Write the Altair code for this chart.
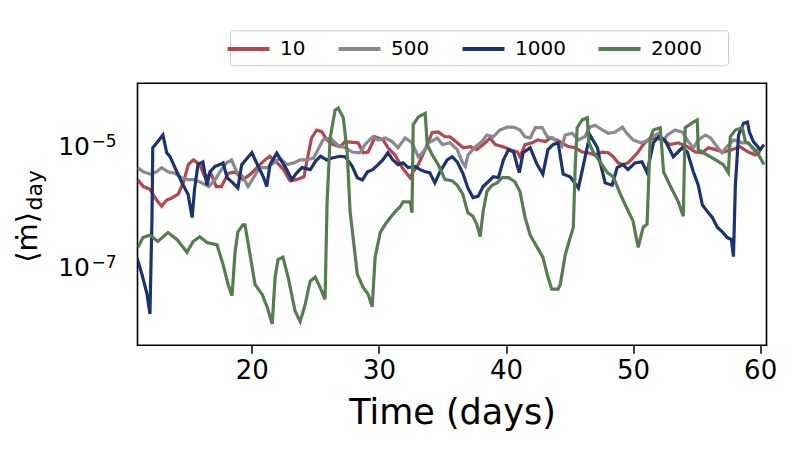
import altair as alt
import pandas as pd

series_names = ["10", "500", "1000", "2000"]
colors = ["#b4464f", "#8a8893", "#1b346f", "#557d50"]

t_10 = [11.0, 11.46, 11.98, 12.5, 12.9, 13.3, 13.7, 14.2, 14.6, 15.0, 15.4, 15.9, 16.3, 16.8, 17.2, 17.6,
        18.15, 18.7, 19.3, 19.9, 20.4, 20.9, 21.4, 22.0, 22.5, 23.0, 23.5, 24.1, 24.3, 24.7, 25.1, 25.5,
        25.9, 26.4, 26.95, 27.34, 28.36, 28.76, 29.15, 29.7, 30.33, 30.72, 31.27, 31.83, 32.46, 32.69,
        33.09, 33.64, 34.19, 34.66, 35.2, 35.6, 36.16, 36.63, 37.2, 37.7, 38.2, 38.76, 39.15, 39.7, 40.35,
        40.9, 41.1, 41.5, 42.06, 42.5, 43.1, 43.5, 44.0, 44.4, 44.9, 45.45, 46.0, 46.47, 47.0, 47.57, 48.05,
        48.44, 48.83, 49.2, 49.6, 50.0, 50.4, 50.8, 51.2, 51.75, 52.3, 52.93, 53.56, 54.27, 54.9, 55.45,
        55.92, 56.5, 57.1, 57.8, 58.4, 59.07, 59.6, 60.0]
v_10 = [2.6e-6, 2.0e-6, 1.8e-6, 1.2e-6, 9.5e-7, 1.2e-6, 1.3e-6, 1.5e-6, 2.3e-6, 4.6e-6, 5.5e-6, 4.6e-6, 2.9e-6,
        3.2e-6, 2.0e-6, 2.0e-6, 3.3e-6, 3.5e-6, 2.6e-6, 3.2e-6, 4.1e-6, 5.2e-6, 6.3e-6, 4.9e-6, 3.8e-6,
        2.5e-6, 2.6e-6, 2.9e-6, 4.9e-6, 1.26e-5, 1.7e-5, 1.6e-5, 1.17e-5, 9.8e-6, 9.1e-6, 1.10e-5, 1.05e-5,
        7.2e-6, 7.4e-6, 1.32e-5, 1.17e-5, 8.7e-6, 6.6e-6, 4.1e-6, 2.8e-6, 3.5e-6, 4.6e-6, 8.1e-6, 1.55e-5,
        1.58e-5, 1.32e-5, 1.32e-5, 1.05e-5, 8.7e-6, 9.1e-6, 8.1e-6, 9.8e-6, 1.26e-5, 9.8e-6, 9.1e-6, 8.1e-6,
        7.4e-6, 6.2e-6, 9.8e-6, 1.05e-5, 1.17e-5, 1.10e-5, 1.26e-5, 1.17e-5, 1.05e-5, 9.1e-6, 8.7e-6, 7.4e-6,
        7.2e-6, 6.6e-6, 7.4e-6, 7.2e-6, 6.2e-6, 4.9e-6, 4.6e-6, 4.9e-6, 6.0e-6, 7.4e-6, 9.8e-6, 1.17e-5,
        1.26e-5, 1.17e-5, 9.8e-6, 1.05e-5, 9.1e-6, 7.4e-6, 7.2e-6, 8.7e-6, 8.1e-6, 7.4e-6, 8.1e-6, 9.1e-6,
        7.4e-6, 6.6e-6, 7.4e-6]

t_500 = [11.0, 11.46, 12.0, 12.5, 12.9, 13.4, 13.96, 14.5, 15.0, 15.5, 16.05, 16.6, 17.1, 17.6, 18.0, 18.4,
         18.8, 19.3, 19.7, 20.3, 20.6, 21.2, 21.7, 22.2, 22.75, 23.3, 23.8, 24.3, 24.85, 25.2, 25.6, 26.2,
         26.7, 27.34, 27.9, 28.5, 28.9, 29.5, 29.94, 30.5, 31.04, 31.5, 32.06, 32.6, 33.1, 33.5, 33.9, 34.6,
         35.0, 35.6, 36.16, 36.55, 36.8, 37.0, 37.6, 38.1, 38.5, 39.0, 39.5, 40.1, 40.6, 41.1, 41.5, 41.9,
         42.3, 42.85, 43.25, 43.7, 44.1, 44.4, 44.66, 45.2, 45.7, 46.2, 46.6, 47.0, 47.6, 48.05, 48.6, 49.15,
         49.5, 50.0, 50.6, 50.96, 51.5, 52.0, 52.4, 52.7, 53.3, 53.87, 54.35, 54.74, 55.13, 55.7, 56.1, 56.6,
         57.0, 57.4, 57.9, 58.6, 59.07, 59.6, 60.0]
v_500 = [4.1e-6, 3.5e-6, 3.2e-6, 3.5e-6, 4.1e-6, 3.5e-6, 3.3e-6, 2.75e-6, 2.6e-6, 2.6e-6, 2.3e-6, 2.0e-6,
         2.6e-6, 3.8e-6, 4.9e-6, 5.5e-6, 3.5e-6, 2.9e-6, 2.0e-6, 3.2e-6, 4.1e-6, 4.1e-6, 4.9e-6, 5.9e-6,
         4.6e-6, 4.9e-6, 5.5e-6, 5.5e-6, 5.9e-6, 8.1e-6, 1.17e-5, 1.26e-5, 9.8e-6, 8.7e-6, 7.4e-6, 7.2e-6,
         9.8e-6, 1.32e-5, 1.17e-5, 1.26e-5, 1.10e-5, 8.7e-6, 1.26e-5, 1.05e-5, 6.2e-6, 7.4e-6, 1.05e-5,
         1.26e-5, 9.8e-6, 1.05e-5, 8.1e-6, 5.1e-6, 4.3e-6, 6.6e-6, 9.1e-6, 1.10e-5, 1.41e-5, 1.32e-5, 1.7e-5,
         1.9e-5, 1.9e-5, 1.7e-5, 1.32e-5, 1.26e-5, 1.86e-5, 1.86e-5, 1.32e-5, 1.26e-5, 1.05e-5, 9.1e-6,
         1.41e-5, 1.51e-5, 1.17e-5, 1.32e-5, 1.9e-5, 2.04e-5, 1.7e-5, 1.51e-5, 1.58e-5, 1.9e-5, 1.51e-5,
         1.17e-5, 1.05e-5, 1.10e-5, 1.32e-5, 1.51e-5, 1.17e-5, 1.41e-5, 1.7e-5, 1.58e-5, 1.10e-5, 8.7e-6,
         1.17e-5, 1.41e-5, 1.26e-5, 9.1e-6, 7.2e-6, 9.1e-6, 1.17e-5, 1.05e-5, 1.05e-5, 7.4e-6, 8.7e-6]

t_1000 = [10.96, 11.35, 11.75, 11.98, 12.14, 12.2, 12.6, 13.0, 13.3, 13.56, 13.95, 14.5, 14.98, 15.3, 15.5,
          15.76, 16.15, 16.47, 16.7, 17.1, 17.5, 17.73, 18.05, 18.5, 18.9, 19.2, 20.0, 20.5, 20.9, 21.17,
          21.43, 21.96, 22.35, 22.75, 23.14, 23.5, 23.94, 24.6, 25.0, 25.4, 25.9, 26.3, 26.95, 27.34, 27.9,
          28.3, 28.7, 29.1, 29.5, 29.94, 30.3, 30.7, 31.1, 31.5, 31.9, 32.3, 32.85, 33.24, 33.64, 34.0, 34.4,
          34.8, 35.37, 35.76, 36.16, 36.63, 37.0, 37.4, 37.8, 38.2, 38.6, 39.0, 39.4, 39.8, 40.2, 40.6, 40.9,
          41.05, 41.35, 41.9, 42.45, 42.9, 43.3, 43.7, 44.1, 44.5, 45.05, 45.7, 46.1, 46.6, 47.2, 47.4, 47.8,
          48.35, 48.75, 49.2, 49.6, 50.15, 50.7, 51.1, 51.6, 52.0, 52.5, 53.17, 53.87, 54.27, 54.74, 55.13,
          55.45, 55.92, 56.24, 56.63, 57.02, 57.42, 57.74, 57.9, 58.05, 58.3, 58.7, 59.0, 59.15, 59.47, 59.8,
          60.0, 60.3]
v_1000 = [1.35e-7, 7.2e-8, 3.4e-8, 1.6e-8, 6.2e-7, 8.7e-6, 1.10e-5, 1.41e-5, 7.2e-6, 6.2e-6, 4.1e-6, 2.3e-6,
          1.5e-6, 6.2e-7, 1.9e-6, 4.6e-6, 5.1e-6, 2.1e-6, 3.5e-6, 4.3e-6, 4.6e-6, 4.9e-6, 2.8e-6, 2.3e-6,
          1.9e-6, 4.6e-6, 7.2e-6, 4.3e-6, 2.9e-6, 2.0e-6, 4.6e-6, 7.1e-6, 5.2e-6, 3.8e-6, 2.6e-6, 3.3e-6,
          4.1e-6, 3.8e-6, 5.2e-6, 6.3e-6, 5.5e-6, 5.9e-6, 6.3e-6, 6.2e-6, 4.3e-6, 2.8e-6, 2.57e-6, 3.5e-6,
          3.8e-6, 4.6e-6, 5.5e-6, 7.2e-6, 5.5e-6, 4.6e-6, 4.9e-6, 4.1e-6, 4.3e-6, 3.8e-6, 3.5e-6, 3.4e-6,
          2.3e-6, 3.5e-6, 5.5e-6, 6.2e-6, 5.1e-6, 3.2e-6, 1.9e-6, 1.32e-6, 1.38e-6, 2.0e-6, 2.4e-6, 2.9e-6,
          2.8e-6, 5.5e-6, 8.1e-6, 7.4e-6, 4.3e-6, 3.4e-6, 7.2e-6, 8.7e-6, 4.6e-6, 3.2e-6, 8.1e-6, 9.8e-6,
          1.05e-5, 3.2e-6, 2.9e-6, 1.9e-6, 4.6e-6, 1.41e-5, 8.7e-6, 5.1e-6, 2.3e-6, 2.1e-6, 4.1e-6, 4.6e-6,
          3.8e-6, 4.9e-6, 5.1e-6, 3.4e-6, 1.05e-5, 1.32e-5, 1.17e-5, 6.2e-6, 8.7e-6, 7.4e-6, 3.5e-6, 2.1e-6,
          1.0e-6, 7.4e-7, 6.2e-7, 4.3e-7, 3.6e-7, 2.9e-7, 2.7e-7, 1.41e-7, 2.1e-6, 1.41e-5, 2.2e-5, 2.3e-5,
          1.58e-5, 1.10e-5, 9.1e-6, 8.1e-6, 9.8e-6]

t_2000 = [11.04, 11.43, 11.98, 12.6, 13.4, 14.1, 14.9, 15.37, 15.9, 16.47, 17.26, 17.73, 18.13, 18.44, 18.68,
          18.9, 19.3, 19.46, 19.86, 20.25, 20.8, 21.2, 21.6, 21.83, 22.06, 22.45, 22.85, 23.4, 23.8, 24.2,
          24.58, 24.98, 25.37, 25.76, 25.92, 26.16, 26.55, 26.8, 27.2, 27.5, 27.73, 28.3, 28.76, 29.15, 29.47,
          29.7, 30.1, 30.5, 30.9, 31.3, 31.67, 31.9, 32.46, 32.6, 32.7, 33.1, 33.64, 33.8, 34.2, 34.66, 35.2,
          35.76, 36.16, 36.6, 37.0, 37.4, 37.7, 37.97, 38.2, 38.5, 38.9, 39.3, 39.7, 40.2, 40.7, 41.1, 41.5,
          41.9, 42.45, 42.9, 43.3, 43.6, 44.1, 44.27, 44.66, 45.05, 45.3, 45.45, 45.6, 46.0, 46.4, 46.5, 46.86,
          47.4, 47.97, 48.44, 49.0, 49.5, 50.0, 50.4, 50.8, 51.1, 51.35, 51.6, 52.14, 52.4, 52.9, 53.56, 53.95,
          54.1, 54.74, 55.05, 55.13, 55.85, 56.5, 57.1, 57.5, 57.65, 58.05, 58.6, 58.84, 59.2, 59.6, 60.0, 60.3]
v_2000 = [2.0e-7, 2.9e-7, 3.2e-7, 2.5e-7, 3.5e-7, 2.7e-7, 1.66e-7, 2.5e-7, 3.0e-7, 2.4e-7, 2.2e-7, 1.05e-7,
          4.9e-8, 3.2e-8, 1.7e-7, 3.6e-7, 4.7e-7, 4.7e-7, 1.5e-7, 4.9e-8, 3.4e-8, 2.1e-8, 1.1e-8, 6.5e-8,
          1.26e-7, 1.38e-7, 6.5e-8, 1.8e-8, 1.2e-8, 2.3e-8, 5.5e-8, 6.5e-8, 4.4e-8, 2.8e-8, 1.12e-6, 1.26e-5,
          3.6e-5, 3.9e-5, 2.7e-5, 7.4e-6, 7.8e-7, 7.2e-8, 4.4e-8, 3.4e-8, 2.1e-8, 1.38e-7, 3.5e-7, 4.8e-7,
          6.2e-7, 7.8e-7, 9.3e-7, 1.12e-6, 1.12e-6, 7.4e-7, 2.1e-5, 2.8e-5, 3.2e-5, 9.8e-6, 6.6e-6, 4.6e-6,
          2.6e-6, 2.5e-6, 2.1e-6, 1.5e-6, 7.4e-7, 6.5e-7, 4.8e-7, 3.0e-7, 7.8e-7, 1.66e-6, 2.1e-6, 2.3e-6,
          2.8e-6, 2.8e-6, 2.4e-6, 1.66e-6, 6.2e-7, 3.2e-7, 2.0e-7, 1.38e-7, 6.5e-8, 4.1e-8, 4.1e-8, 4.9e-8,
          1.5e-7, 2.9e-7, 4.3e-7, 4.6e-6, 1.86e-5, 2.5e-5, 2.7e-5, 1.10e-5, 7.4e-6, 5.1e-6, 3.4e-6, 2.9e-6,
          1.5e-6, 8.9e-7, 5.4e-7, 2.0e-7, 4.3e-7, 4.8e-7, 1.26e-5, 1.7e-5, 1.86e-5, 3.5e-6, 2.1e-6, 1.12e-6,
          6.5e-7, 1.86e-5, 2.3e-5, 2.5e-5, 8.1e-6, 6.6e-6, 5.5e-6, 4.6e-6, 3.4e-6, 1.32e-5, 1.7e-5, 1.86e-5,
          1.10e-5, 9.8e-6, 8.1e-6, 6.0e-6, 4.6e-6]

x_ticks = [20, 30, 40, 50, 60]
y_ticks = [1e-5, 1e-7]
y_tick_base = ["10", "10"]
y_tick_exp = ["\u22125", "\u22127"]

frames = []
for name, t, v in [("10", t_10, v_10), ("500", t_500, v_500), ("1000", t_1000, v_1000), ("2000", t_2000, v_2000)]:
    frames.append(pd.DataFrame({"time": t, "mdot": v, "series": name, "order": series_names.index(name)}))
df = pd.concat(frames, ignore_index=True)

FONT = "DejaVu Sans"
yscale = alt.Scale(type="log", domain=[4.9e-9, 1e-4], nice=False)

lines = alt.Chart(df).mark_line(strokeWidth=3.2, clip=True).encode(
    x=alt.X("time:Q", scale=alt.Scale(domain=[11, 60.5], nice=False, zero=False),
            axis=alt.Axis(values=x_ticks, title="Time (days)", titleFontSize=35, titleFont=FONT,
                          titleFontWeight="normal", titleColor="black", titlePadding=12,
                          labelFontSize=26, labelFont=FONT, labelColor="black", labelPadding=4,
                          tickSize=8, tickWidth=1.5, tickColor="black", domain=False, grid=False)),
    y=alt.Y("mdot:Q", scale=yscale,
            axis=alt.Axis(values=y_ticks, title=None, labels=False, tickSize=8, tickWidth=1.5,
                          tickColor="black", domain=False, grid=False)),
    color=alt.Color("series:N", scale=alt.Scale(domain=series_names, range=colors),
                    legend=alt.Legend(orient="none", legendX=92.5, legendY=-53, direction="horizontal",
                                      columns=4, title=None, symbolType="M-2,0H2", symbolSize=441,
                                      symbolStrokeWidth=4, labelFontSize=20, labelFont=FONT,
                                      labelColor="black", columnPadding=24, padding=6,
                                      strokeColor="#cccccc", cornerRadius=3, labelOffset=19,
                                      fillColor="white", offset=0,
                                      labelExpr="datum.label == '2000' ? '2000\u2003\u200b' : datum.label")),
    order=alt.Order("order:Q"),
    detail="series:N",
)

tick_df = pd.DataFrame({"mdot": y_ticks, "base": y_tick_base, "exp": y_tick_exp})
ylabel_base = alt.Chart(tick_df).mark_text(
    fontSize=25, font=FONT, color="black", baseline="alphabetic", align="right", dy=10.7
).encode(text="base:N", x=alt.value(-47.5), y=alt.Y("mdot:Q", scale=yscale, axis=None))
ylabel_exp = alt.Chart(tick_df).mark_text(
    fontSize=17, font=FONT, color="black", baseline="alphabetic", align="left", dy=2.7
).encode(text="exp:N", x=alt.value(-46), y=alt.Y("mdot:Q", scale=yscale, axis=None))

ylab1 = alt.Chart(pd.DataFrame({"s": ["⟨ṁ⟩"]})).mark_text(
    angle=270, fontSize=29, font=FONT, color="black", baseline="alphabetic", align="center"
).encode(text="s:N", x=alt.value(-101), y=alt.value(154))

ylab2 = alt.Chart(pd.DataFrame({"s": ["day"]})).mark_text(
    angle=270, fontSize=22, font=FONT, color="black", baseline="alphabetic", align="center"
).encode(text="s:N", x=alt.value(-96), y=alt.value(107))

chart = alt.layer(lines, ylabel_base, ylabel_exp, ylab1, ylab2).properties(
    width=629, height=262,
    autosize=alt.AutoSizeParams(type="none"),
    padding={"left": 129.5, "top": 75.3, "right": 25, "bottom": 96},
    background="white",
).configure_view(stroke="black", strokeWidth=1.6)

chart.save("out.html", embed_options={"renderer": "svg", "actions": False})
